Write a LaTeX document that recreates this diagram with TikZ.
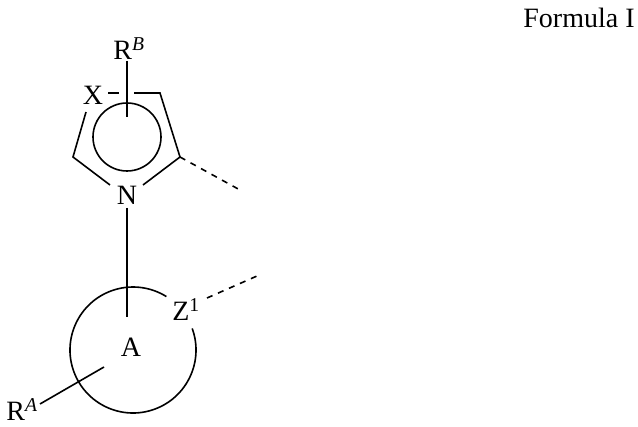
\documentclass[tikz,border=0pt]{standalone}
\usepackage{fontspec}
\setmainfont{Liberation Serif}
\begin{document}
\begin{tikzpicture}[x=1pt,y=-1pt,line width=1.6pt,
  lbl/.style={inner sep=0pt,font=\fontsize{28}{32}\selectfont},
  dsh/.style={dash pattern=on 6pt off 6pt}]
\useasboundingbox (0,0) rectangle (638,427);
\node[lbl] (f) at (579,18) {Formula I};
\node[lbl] (rb) at (129,49) {R\textsuperscript{\itshape B}};
\node[lbl] (x) at (93,95) {X};
\node[lbl] (n) at (127,195) {N};
\node[lbl] (a) at (131,347) {A};
\node[lbl] (z) at (186,310) {Z\textsuperscript{1}};
\node[lbl] (ra) at (22,410) {R\textsuperscript{\itshape A}};
\coordinate (v1) at (160,93);
\coordinate (v2) at (180,157);
\coordinate (v3) at (73,157);
\coordinate (rbe) at (127,117);
\coordinate (ae) at (127,317);
\coordinate (ra2) at (104,367);
\coordinate (d1) at (240,190);
\coordinate (d2) at (257,276);
\draw (127,61) -- (rbe);
\draw (108,93) -- (119,93);
\draw (134,93) -- (v1) -- (v2) -- (143,185);
\draw (110,185) -- (v3) -- (86,112);
\draw (127,137) circle (34);
\draw[dsh] (v2) -- (d1);
\draw (127,208) -- (ae);
\draw (133,350) ++(-20:63) arc[start angle=-20,end angle=302,radius=63];
\draw[dsh] (207,298) -- (d2);
\draw (40,404) -- (ra2);
\end{tikzpicture}
\end{document}
